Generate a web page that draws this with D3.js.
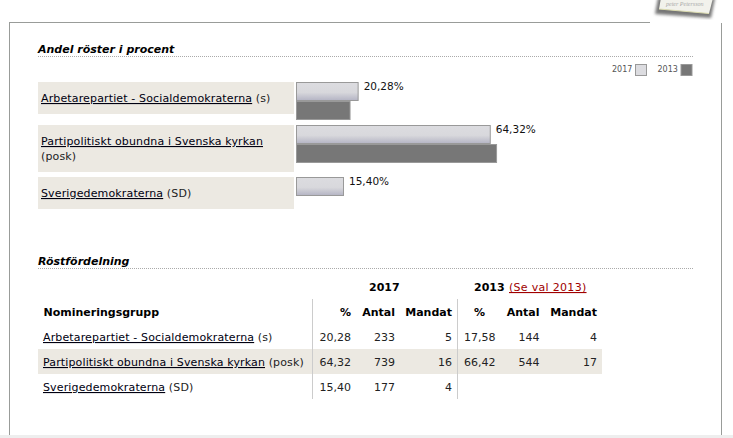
<!DOCTYPE html>
<html>
<head>
<meta charset="utf-8">
<script src="https://cdn.jsdelivr.net/npm/d3@7"></script>
<style>
html, body { margin: 0; padding: 0; background: #fff; }
svg { display: block; }
text { font-family: "DejaVu Sans", Verdana, sans-serif; font-size: 11px; fill: #222; }
.title { font-size: 11px; font-weight: bold; font-style: italic; fill: #000; }
.head { font-weight: bold; fill: #000; }
.name { letter-spacing: 0.14px; }
.link { text-decoration: underline; fill: #001; }
.legend { font-size: 8px; fill: #555; }
.pct { font-size: 10.5px; fill: #111; }
</style>
</head>
<body>
<script>
// data
var parties = ["Arbetarepartiet - Socialdemokraterna", "Partipolitiskt obundna i Svenska kyrkan", "Sverigedemokraterna"];
var shortNames = ["(s)", "(posk)", "(SD)"];
var years = ["2017", "2013"];
var pct2017 = [20.28, 64.32, 15.40];
var pct2013 = [17.58, 66.42, null];
var antal2017 = [233, 739, 177];
var antal2013 = [144, 544, null];
var mandat2017 = [5, 16, 4];
var mandat2013 = [4, 17, null];
var columnLabels = ["%", "Antal", "Mandat", "%", "Antal", "Mandat"];

var width = 733, height = 438;
var comma = function(v) { return v.toFixed(2).replace(".", ","); };

var svg = d3.select("body").append("svg")
    .attr("width", width)
    .attr("height", height);

var grad = svg.append("defs").append("linearGradient")
    .attr("id", "barGrad")
    .attr("x1", 0).attr("x2", 0).attr("y1", 0).attr("y2", 1);
grad.append("stop").attr("offset", "0%").attr("stop-color", "#dcdce0");
grad.append("stop").attr("offset", "55%").attr("stop-color", "#d8d8dc");
grad.append("stop").attr("offset", "100%").attr("stop-color", "#b4b4c4");

var blur = svg.select("defs").append("filter").attr("id", "soft");
blur.append("feGaussianBlur").attr("stdDeviation", 1.6);

// page frame
svg.append("rect").attr("x", 0).attr("y", 435).attr("width", width).attr("height", 3).attr("fill", "#eeeeee");
var frame = svg.append("g").attr("stroke", "#999c99").attr("fill", "none");
frame.append("line").attr("x1", 9.5).attr("x2", 9.5).attr("y1", 22).attr("y2", 435);
frame.append("line").attr("x1", 9).attr("x2", 650).attr("y1", 22.5).attr("y2", 22.5);
frame.append("line").attr("x1", 721.5).attr("x2", 721.5).attr("y1", 23).attr("y2", 435);

// note in the corner
svg.append("path").attr("d", "M658,-2 L715,-2 L711,18 L655,14 Z").attr("fill", "#777").attr("filter", "url(#soft)");
svg.append("path").attr("d", "M661,-2 L713,-2 L709,13.5 L659,9 Z").attr("fill", "#f2f2ec");
svg.append("path").attr("d", "M659,9 L709,13.5").attr("fill", "none").attr("stroke", "#dcdcb0");
svg.append("text").attr("x", 666).attr("y", 6).style("font-size", "6px").style("font-style", "italic")
    .style("font-family", "Liberation Serif").style("fill", "#aaa").text("peter Petersson");

// section titles
[{t: "Andel röster i procent", y: 53, line: 56.5}, {t: "Röstfördelning", y: 265, line: 268.5}].forEach(function(s) {
    svg.append("text").attr("class", "title").attr("x", 38).attr("y", s.y).text(s.t);
    svg.append("line").attr("x1", 38).attr("x2", 693).attr("y1", s.line).attr("y2", s.line)
        .attr("stroke", "#aaa").attr("stroke-dasharray", "1,1");
});

// legend
var legendColors = {"2017": "url(#barGrad)", "2013": "#777777"};
var legend = svg.selectAll(".lg").data(years).enter().append("g")
    .attr("transform", function(d, i) { return "translate(" + (612 + i * 45.5) + ",0)"; });
legend.append("text").attr("class", "legend").attr("y", 72).text(function(d) { return d; });
legend.append("rect").attr("x", 23.5).attr("y", 64.5).attr("width", 11).attr("height", 11)
    .attr("fill", function(d) { return d == "2017" ? "#dcdce0" : "#777"; }).attr("stroke", "#999");

// bar chart
var barLeft = 296;
var x = d3.scaleLinear().domain([0, 100]).range([barLeft + 0.8, barLeft + 300.8]);
var rowTop = [82, 125, 177];
var rowHeight = [32, 47, 32];
var barBand = d3.scaleBand().domain(years).range([0, 38]);

var rows = svg.selectAll(".row").data(parties).enter().append("g")
    .attr("transform", function(d, i) { return "translate(0," + rowTop[i] + ")"; });

rows.append("rect").attr("x", 38).attr("width", 256)
    .attr("height", function(d, i) { return rowHeight[i]; })
    .attr("fill", "#ece9e2");

rows.each(function(d, i) {
    var g = d3.select(this);
    var first = g.append("text").attr("class", "name").attr("x", 41).attr("y", 20);
    first.append("tspan").attr("class", "link").text(d);
    if (i == 1) {
        g.append("text").attr("class", "name").attr("x", 41).attr("y", 35).text(shortNames[i]);
    } else {
        first.append("tspan").text(" " + shortNames[i]);
    }

    var vals = [pct2017[i], pct2013[i]];
    years.forEach(function(yr, k) {
        if (vals[k] == null) return;
        g.append("rect")
            .attr("x", barLeft + 0.5)
            .attr("y", barBand(yr) + 0.5)
            .attr("width", x(vals[k]) - barLeft)
            .attr("height", barBand.bandwidth() - 1)
            .attr("fill", legendColors[yr])
            .attr("stroke", "#999");
    });
    g.append("text").attr("class", "pct").attr("x", x(pct2017[i]) + 6).attr("y", 8).text(comma(pct2017[i]) + "%");
});

// table
var tableRowY = d3.scalePoint().domain(parties).range([341, 391]);
var colRight = [351, 395, 452, 495.5, 539.5, 597];

svg.append("rect").attr("x", 38).attr("y", 349).attr("width", 564).attr("height", 25).attr("fill", "#ece9e2");
svg.selectAll(".sep").data([312.5, 457.5]).enter().append("line")
    .attr("x1", function(d) { return d; }).attr("x2", function(d) { return d; })
    .attr("y1", 299).attr("y2", 399).attr("stroke", "#ccc");

svg.append("text").attr("class", "head").attr("x", 369).attr("y", 291).text(years[0]);
svg.append("text").attr("class", "head").attr("x", 474).attr("y", 291).text(years[1]);
svg.append("text").attr("class", "link").attr("x", 509).attr("y", 291)
    .style("fill", "#a00000").style("letter-spacing", "0.3px").text("(Se val 2013)");

svg.append("text").attr("class", "head").attr("x", 43.5).attr("y", 316).text("Nomineringsgrupp");
svg.selectAll(".colhead").data(columnLabels).enter().append("text")
    .attr("class", "head")
    .attr("text-anchor", function(d, i) { return i == 3 ? "middle" : "end"; })
    .attr("x", function(d, i) { return i == 3 ? 479.5 : colRight[i]; })
    .attr("y", 316)
    .text(function(d) { return d; });

var tr = svg.selectAll(".tr").data(parties).enter().append("g")
    .attr("transform", function(d) { return "translate(0," + tableRowY(d) + ")"; });

var nameCell = tr.append("text").attr("class", "name").attr("x", 43);
nameCell.append("tspan").attr("class", "link").text(function(d) { return d; });
nameCell.append("tspan").text(function(d, i) { return " " + shortNames[i]; });

tr.each(function(d, i) {
    var cells = [comma(pct2017[i]), antal2017[i], mandat2017[i],
        pct2013[i] == null ? "" : comma(pct2013[i]), antal2013[i], mandat2013[i]];
    d3.select(this).selectAll(".cell").data(cells).enter().append("text")
        .attr("text-anchor", "end")
        .attr("x", function(c, k) { return colRight[k]; })
        .text(function(c) { return c; });
});
</script>
</body>
</html>
